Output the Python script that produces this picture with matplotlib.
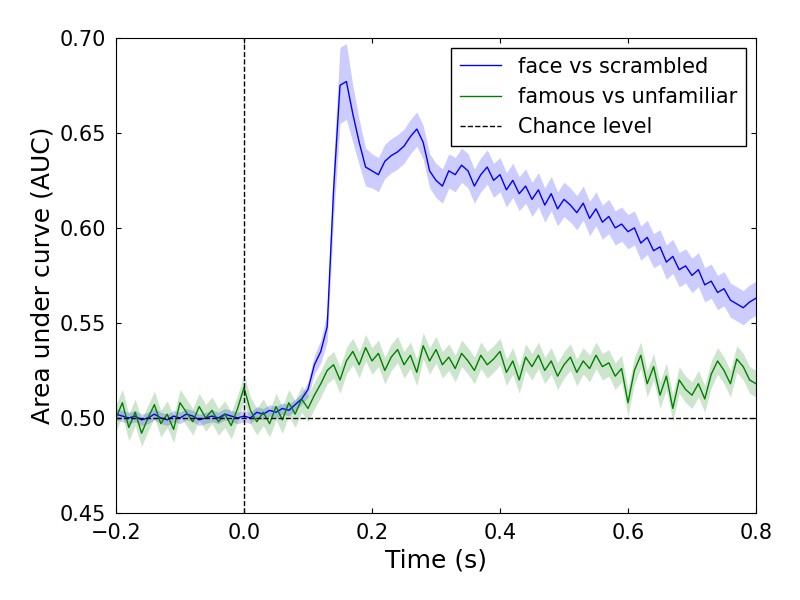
import numpy as np
import matplotlib
matplotlib.use('Agg')
import matplotlib.pyplot as plt

# temps de -0.2 a 0.8 s, pas de 10 ms
times = np.round(np.arange(-0.2, 0.8001, 0.01), 3)

face_auc = [.502, .501, .500, .501, .499, .500, .502, .500, .499, .501,
            .500, .502, .501, .499, .500, .501, .500, .502, .501, .500,
            .501, .500, .503, .502, .504, .503, .505, .504, .507, .510,
            .515, .528, .535, .548, .620, .675, .677, .660, .645, .632,
            .630, .628, .635, .638, .640, .643, .648, .652, .645, .630,
            .625, .622, .630, .628, .633, .630, .622, .628, .632, .625,
            .628, .620, .625, .618, .622, .615, .620, .612, .618, .610,
            .615, .612, .608, .613, .605, .610, .603, .606, .600, .602,
            .598, .600, .592, .595, .588, .590, .582, .585, .578, .580,
            .575, .578, .570, .572, .566, .568, .562, .560, .558, .561,
            .563]
face_sem = [.003] * 30 + [.004, .005, .006, .008, .015, .020, .020, .015, .012, .010] + [.009] * 61

famous_auc = [.500, .508, .495, .503, .492, .500, .507, .497, .502, .494,
              .508, .503, .498, .506, .500, .504, .498, .502, .496, .505,
              .516, .504, .498, .503, .497, .506, .499, .508, .502, .510,
              .505, .512, .518, .525, .528, .520, .530, .535, .528, .537,
              .530, .534, .525, .532, .536, .528, .533, .524, .538, .530,
              .536, .528, .532, .526, .534, .530, .525, .533, .528, .531,
              .535, .524, .530, .520, .532, .527, .533, .525, .530, .522,
              .528, .532, .524, .530, .526, .533, .527, .529, .522, .526,
              .508, .525, .533, .518, .527, .512, .522, .505, .520, .515,
              .512, .518, .510, .523, .530, .525, .518, .531, .527, .520,
              .518]
famous_sem = [.007] * 101

face_auc, face_sem = np.array(face_auc), np.array(face_sem)
famous_auc, famous_sem = np.array(famous_auc), np.array(famous_sem)

fig, ax = plt.subplots(figsize=(8, 6), dpi=100)
ax.fill_between(times, face_auc - face_sem, face_auc + face_sem, color='b', alpha=0.2, lw=0)
ax.fill_between(times, famous_auc - famous_sem, famous_auc + famous_sem, color='g', alpha=0.2, lw=0)
ax.plot(times, face_auc, color='b', lw=1, label='face vs scrambled')
ax.plot(times, famous_auc, color='g', lw=1, label='famous vs unfamiliar')
ax.axhline(0.5, color='k', ls='--', lw=1, label='Chance level')
ax.axvline(0.0, color='k', ls='--', lw=1)

ax.set_xlim(-0.2, 0.8)
ax.set_ylim(0.45, 0.70)
ax.set_xticks([-0.2, 0.0, 0.2, 0.4, 0.6, 0.8])
ax.set_xticklabels(['\u22120.2', '0.0', '0.2', '0.4', '0.6', '0.8'])
ax.set_yticks(np.arange(0.45, 0.701, 0.05))
ax.tick_params(labelsize=15, direction='in', top=True, right=True, pad=7)
ax.set_xlabel('Time (s)', fontsize=18)
ax.set_ylabel('Area under curve (AUC)', fontsize=18)
ax.legend(loc='upper right', fontsize=15, fancybox=False, framealpha=1, edgecolor='k')
fig.subplots_adjust(left=0.145, right=0.945, bottom=0.145, top=0.937)
fig.savefig('out.png')
